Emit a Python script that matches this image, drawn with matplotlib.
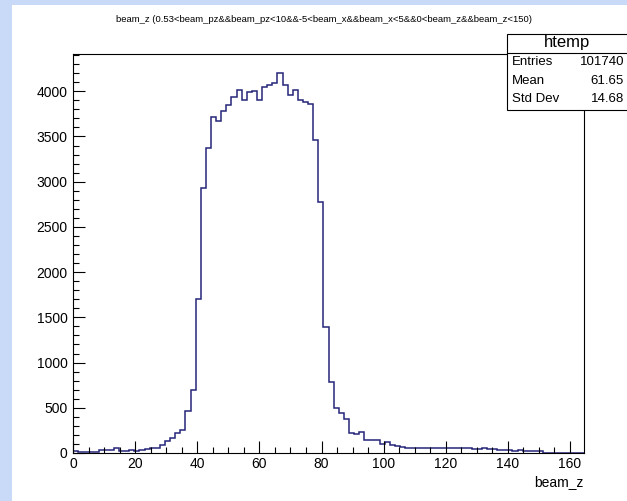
# ROOT-style histogram of beam_z, redrawn with matplotlib.
import numpy as np
import matplotlib.pyplot as plt
from matplotlib.patches import Rectangle
from matplotlib.ticker import MultipleLocator

plt.rcParams['font.family'] = ['Liberation Sans', 'DejaVu Sans']

# Histogram definition: 100 bins between 0 and 164.5
nbins = 100
xmin, xmax = 0.0, 164.5
# bin contents (bins past the last one are empty)
counts = [19, 12, 8, 6, 8, 30, 28, 30, 52, 25,
          26, 28, 27, 30, 45, 55, 60, 88, 133, 166,
          225, 254, 464, 696, 1700, 2928, 3374, 3716, 3668, 3779,
          3845, 3937, 4011, 3901, 3993, 4000, 3908, 4048, 4074, 4093,
          4202, 4066, 3956, 4019, 3908, 3882, 3857, 3459, 2777, 1396,
          785, 497, 446, 375, 217, 212, 228, 144, 140, 146,
          99, 125, 88, 78, 62, 58, 55, 57, 54, 56,
          60, 52, 55, 60, 50, 53, 55, 50, 48, 46,
          50, 45, 44, 38, 36, 28, 26, 30, 25, 22,
          26, 20]

title = 'beam_z (0.53<beam_pz&&beam_pz<10&&-5<beam_x&&beam_x<5&&0<beam_z&&beam_z<150)'
stat_names = ['Entries', 'Mean', 'Std Dev']
stat_values = ['101740', '61.65', '14.68']

vals = np.zeros(nbins)
vals[:len(counts)] = counts
edges = np.linspace(xmin, xmax, nbins + 1)

W, H = 627, 501
fig = plt.figure(figsize=(W / 100, H / 100), dpi=100)
fig.patch.set_facecolor('#c9daf8')
# white canvas
fig.add_artist(Rectangle((12 / W, 0), 1, 1 - 5 / H, transform=fig.transFigure,
                         facecolor='white', edgecolor='none', zorder=0))

left, right, top, bottom = 73, 584, 54, 453
ax = fig.add_axes([left / W, 1 - bottom / H, (right - left) / W, (bottom - top) / H])
ax.stairs(vals, edges, color='#26267a', linewidth=1.1)
ax.set_xlim(xmin, xmax)
ax.set_ylim(0, 1.05 * max(counts))

ax.xaxis.set_major_locator(MultipleLocator(20))
ax.xaxis.set_minor_locator(MultipleLocator(5))
ax.yaxis.set_major_locator(MultipleLocator(500))
ax.yaxis.set_minor_locator(MultipleLocator(100))
ax.tick_params(which='both', direction='in', labelsize=10, width=0.8)
ax.tick_params(which='major', length=8.5)
ax.tick_params(which='minor', length=4.5)
ax.tick_params(axis='x', pad=3)
ax.tick_params(axis='y', pad=4)
for s in ax.spines.values():
    s.set_linewidth(0.8)
ax.set_xlabel('beam_z', loc='right', fontsize=10, labelpad=3)

fig.text(324 / W, 1 - 19 / H, title, ha='center', va='center', fontsize=6.8)

# stats box (its right edge runs past the picture)
bx0, bx1, by0, by1, bdiv = 507, 640, 34, 110, 53
fig.add_artist(Rectangle((bx0 / W, 1 - by1 / H), (bx1 - bx0) / W, (by1 - by0) / H,
                         transform=fig.transFigure, facecolor='white',
                         edgecolor='black', linewidth=0.8, zorder=5))
fig.add_artist(plt.Line2D([bx0 / W, bx1 / W], [1 - bdiv / H] * 2,
                          transform=fig.transFigure, color='black', linewidth=0.8, zorder=6))
fig.text(567 / W, 1 - 43 / H, 'htemp', ha='center', va='center',
         fontsize=12, zorder=7)
for k, (n, v) in enumerate(zip(stat_names, stat_values)):
    yy = 1 - (62 + 18.5 * k) / H
    fig.text(512 / W, yy, n, ha='left', va='center', fontsize=9.5, zorder=7)
    fig.text(624 / W, yy, v, ha='right', va='center', fontsize=9.5, zorder=7)

fig.savefig('out.png', dpi=100)
